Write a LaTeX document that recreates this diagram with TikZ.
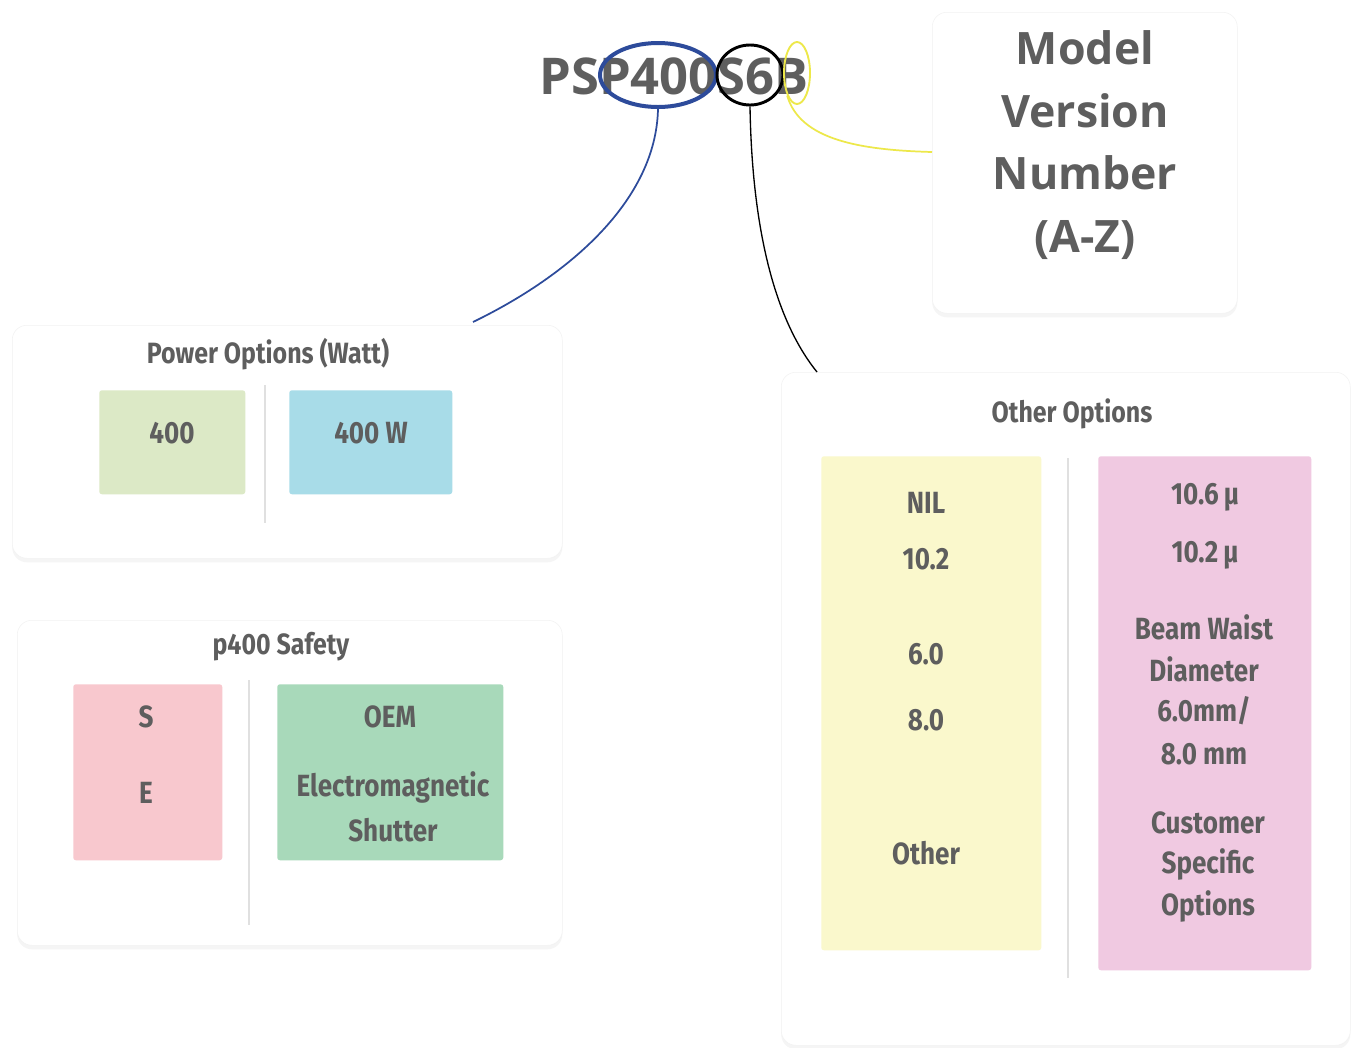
\documentclass[tikz,border=0pt]{standalone}
\usepackage{fontspec}
\setmainfont{Open Sans}
\newfontfamily\condfont{Fira Sans}[FakeStretch=0.85]
\usetikzlibrary{shapes.geometric,shadows}
\definecolor{txt}{HTML}{5E5E5E}
\definecolor{cblue}{HTML}{2D4B9B}
\definecolor{cyel}{HTML}{EDE84A}
\definecolor{fgreen}{HTML}{DCE9C6}
\definecolor{fblue}{HTML}{A8DCE8}
\definecolor{fpink}{HTML}{F8C8CE}
\definecolor{fgreen2}{HTML}{A8D9BA}
\definecolor{fyel}{HTML}{FAF8CC}
\definecolor{fpink2}{HTML}{F0C9E1}
\tikzset{
  card/.style={draw=black!5, fill=white, rounded corners=11pt, anchor=north west, inner sep=0pt,
    drop shadow={opacity=0.08, shadow xshift=0pt, shadow yshift=-3pt}},
  tile/.style={fill=#1, draw=none, rounded corners=2pt, anchor=north west, inner sep=0pt},
  lbl/.style={text=txt, font=\condfont\bfseries\fontsize{23}{26}\selectfont, inner sep=0pt},
  hdr/.style={text=txt, font=\condfont\bfseries\fontsize{22}{25}\selectfont, inner sep=0pt},
  divider/.style={draw=black!12, line width=1.2pt},
}
\begin{document}
\begin{tikzpicture}[x=0.75pt,y=-0.75pt]
\useasboundingbox[fill=white] (0,0) rectangle (1356,1047);

% cards
\node[card, minimum width=228.75pt, minimum height=225.75pt] (model) at (932,12) {};
\node[card, minimum width=412.5pt, minimum height=174.75pt] (power) at (12,325) {};
\node[card, minimum width=408.75pt, minimum height=243.75pt] (safety) at (17,620) {};
\node[card, minimum width=426.75pt, minimum height=504.75pt] (other) at (781,372) {};

% model text
\node[text=txt, font=\bfseries\fontsize{33.5}{47}\selectfont, align=center, inner sep=0pt] (modeltxt) at (1085,145) {Model\\Version\\Number\\(A-Z)};

% title
\node[text=txt, font=\bfseries\fontsize{38}{40}\selectfont, inner sep=0pt] (title) at (674,76) {PSP400S6B};

% ellipses
\node[draw=cblue, line width=3pt, ellipse, minimum width=87pt, minimum height=48pt, inner sep=0pt] (e400) at (658,75) {};
\node[draw=black, line width=2.2pt, ellipse, minimum width=49.5pt, minimum height=45pt, inner sep=0pt] (es6) at (750,75) {};
\node[draw=cyel, line width=1.4pt, ellipse, minimum width=19.5pt, minimum height=46.5pt, inner sep=0pt] (eb) at (797,73) {};

% connectors
\coordinate (pend) at (473,322);
\coordinate (oend) at (817,372);
\draw[cblue, line width=1.3pt] (e400.south) .. controls (656,200) and (570,275) .. (pend);
\draw[black, line width=1pt] (es6.south) .. controls (752,230) and (775,320) .. (oend);
\draw[cyel, line width=1.3pt] (eb.south west) .. controls (800,140) and (860,150) .. (model.west |- 0,152);

% power options
\node[hdr] (powerhdr) at (268,354) {Power Options (Watt)};
\node[tile=fgreen, minimum width=109.5pt, minimum height=78pt] (g400) at (99,390) {};
\node[tile=fblue, minimum width=122.25pt, minimum height=78pt] (b400) at (289,390) {};
\draw[divider] (265,385) -- (265,523);
\node[lbl] (t400) at (172,433) {400};
\node[lbl] (t400w) at (371,433) {400 W};

% safety
\node[hdr] (safehdr) at (281,647) {p400 Safety};
\node[tile=fpink, minimum width=111.75pt, minimum height=132pt] (pse) at (73,684) {};
\node[tile=fgreen2, minimum width=169.5pt, minimum height=132pt] (goem) at (277,684) {};
\draw[divider] (249,680) -- (249,925);
\node[lbl] (ts) at (146,717) {S};
\node[lbl] (te) at (146,793) {E};
\node[lbl] (toem) at (390,717) {OEM};
\node[lbl] (telec) at (393,787) {Electromagnetic};
\node[lbl] (tshut) at (393,830) {Shutter};

% other options
\node[hdr] (otherhdr) at (1072,414) {Other Options};
\node[tile=fyel, minimum width=165pt, minimum height=370.5pt] (ycol) at (821,456) {};
\node[tile=fpink2, minimum width=159.75pt, minimum height=385.5pt] (pcol) at (1098,456) {};
\draw[divider] (1068,458) -- (1068,978);
\node[lbl] (tnil) at (926,503) {NIL};
\node[lbl] (t102) at (926,559) {10.2};
\node[lbl] (t60) at (926,654) {6.0};
\node[lbl] (t80) at (926,720) {8.0};
\node[lbl] (tother) at (926,853) {Other};
\node[lbl] (t106u) at (1205,497) {10.6\,µ};
\node[lbl] (t102u) at (1205,555) {10.2\,µ};
\node[lbl] (tbeam) at (1204,627) {Beam Waist};
\node[lbl] (tdiam) at (1204,669) {Diameter};
\node[lbl] (t60mm) at (1204,711) {6.0mm/};
\node[lbl] (t80mm) at (1204,754) {8.0 mm};
\node[lbl] (tcust) at (1208,823) {Customer};
\node[lbl] (tspec) at (1208,864) {Specific};
\node[lbl] (topt) at (1208,906) {Options};
\end{tikzpicture}
\end{document}
